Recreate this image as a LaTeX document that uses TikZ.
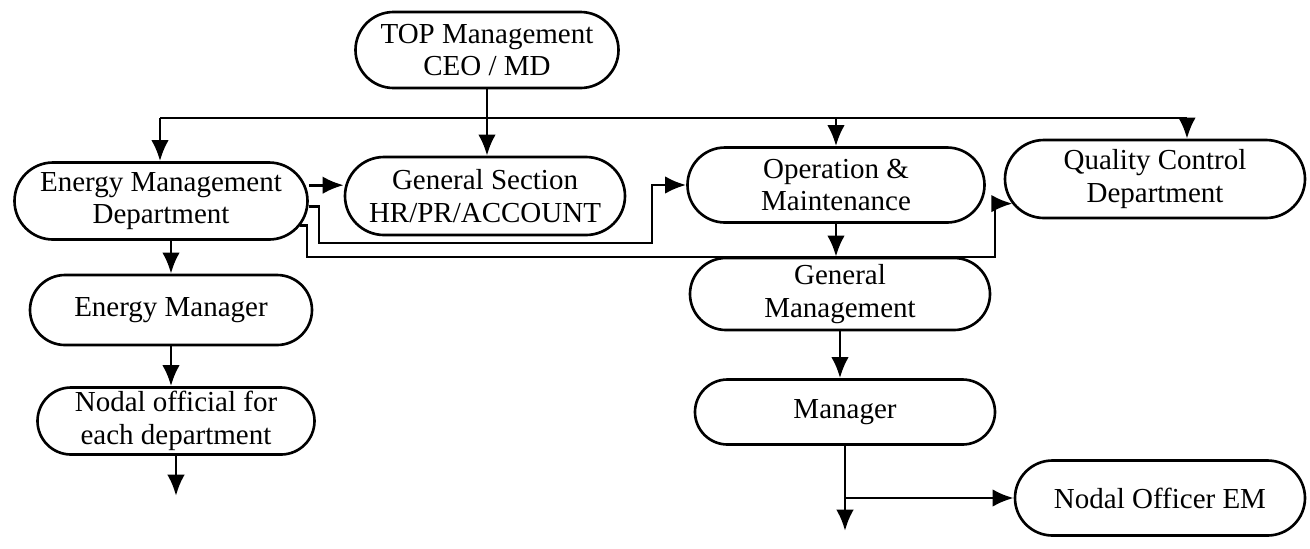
\documentclass[tikz,border=0pt]{standalone}
\usepackage{fontspec}
\setmainfont{Liberation Serif}
\usepackage{tikz}
\usetikzlibrary{positioning,shapes,calc,arrows.meta}

\tikzset{
  box/.style={draw, rounded rectangle, line width=1.5pt, inner sep=0pt,
              align=center, font=\fontsize{16.5}{18.5}\selectfont},
  link/.style={line width=1.6pt, ->, >={Latex[length=12pt,width=10pt]}}
}

\begin{document}
\begin{tikzpicture}
      \useasboundingbox (0,0) rectangle (26.2,-10.96);
      \def \ybus {-2.36}

      % boxes
      \node[box, minimum width=5.26cm, minimum height=1.52cm] (top) at (9.74,-1.0) {TOP Management\\CEO / MD};
      \node[box, minimum width=5.86cm, minimum height=1.54cm] (emd) at (3.22,-4.02) {Energy Management\\Department};
      \node[box, minimum width=5.6cm, minimum height=1.56cm] (gs) at (9.70,-3.92) {General Section\\HR/PR/ACCOUNT};
      \node[box, minimum width=5.94cm, minimum height=1.5cm] (om) at (16.72,-3.70) {Operation \&\\Maintenance};
      \node[box, minimum width=6.0cm, minimum height=1.56cm] (qc) at (23.1,-3.58) {Quality Control\\Department};
      \node[box, minimum width=5.64cm, minimum height=1.4cm] (em) at (3.42,-6.2) {Energy Manager};
      \node[box, minimum width=5.54cm, minimum height=1.34cm] (nodal) at (3.52,-8.42) {Nodal official for\\each department};
      \node[box, minimum width=6.0cm, minimum height=1.44cm] (gm) at (16.8,-5.88) {General\\Management};
      \node[box, minimum width=6.0cm, minimum height=1.3cm] (mgr) at (16.9,-8.24) {Manager};
      \node[box, minimum width=5.8cm, minimum height=1.5cm] (noem) at (23.2,-9.96) {Nodal Officer EM};

      % top bus
      \coordinate (busL) at (3.2,\ybus);
      \coordinate (busR) at (23.74,\ybus);
      \draw[line width=1.6pt] (busL) -- (busR);
      \draw[link] (top.south) -- (top.south |- gs.north);
      \draw[link] (busL) -- (busL |- emd.north);
      \draw[link] (om.north |- busL) -- (om.north);
      \draw[link] (busR) -- (busR |- qc.north);

      % energy management links
      \draw[link] ([yshift=9pt]emd.east) -- ([yshift=9pt]emd.east -| gs.west);
      \draw[link] ([yshift=-3pt]emd.east) -| (6.38,-4.86) -- (13.04,-4.86) |- (om.west);
      \draw[link] ([xshift=-5pt,yshift=-14pt]emd.east) -| (6.14,-5.14) -- (19.9,-5.14)
                  |- ([xshift=5pt,yshift=-14pt]qc.west);

      % left column
      \draw[link] (em.north |- emd.south) -- (em.north);
      \draw[link] (em.south) -- (em.south |- nodal.north);
      \draw[link] (nodal.south) -- ++(0,-0.8);

      % right column
      \draw[link] (om.south) -- (om.south |- gm.north);
      \draw[link] (gm.south) -- (gm.south |- mgr.north);
      \coordinate (split) at (mgr.south |- noem.west);
      \draw[link] (mgr.south) -- ++(0,-1.7);
      \draw[link] (split) -- (noem.west);
    \end{tikzpicture}
\end{document}
